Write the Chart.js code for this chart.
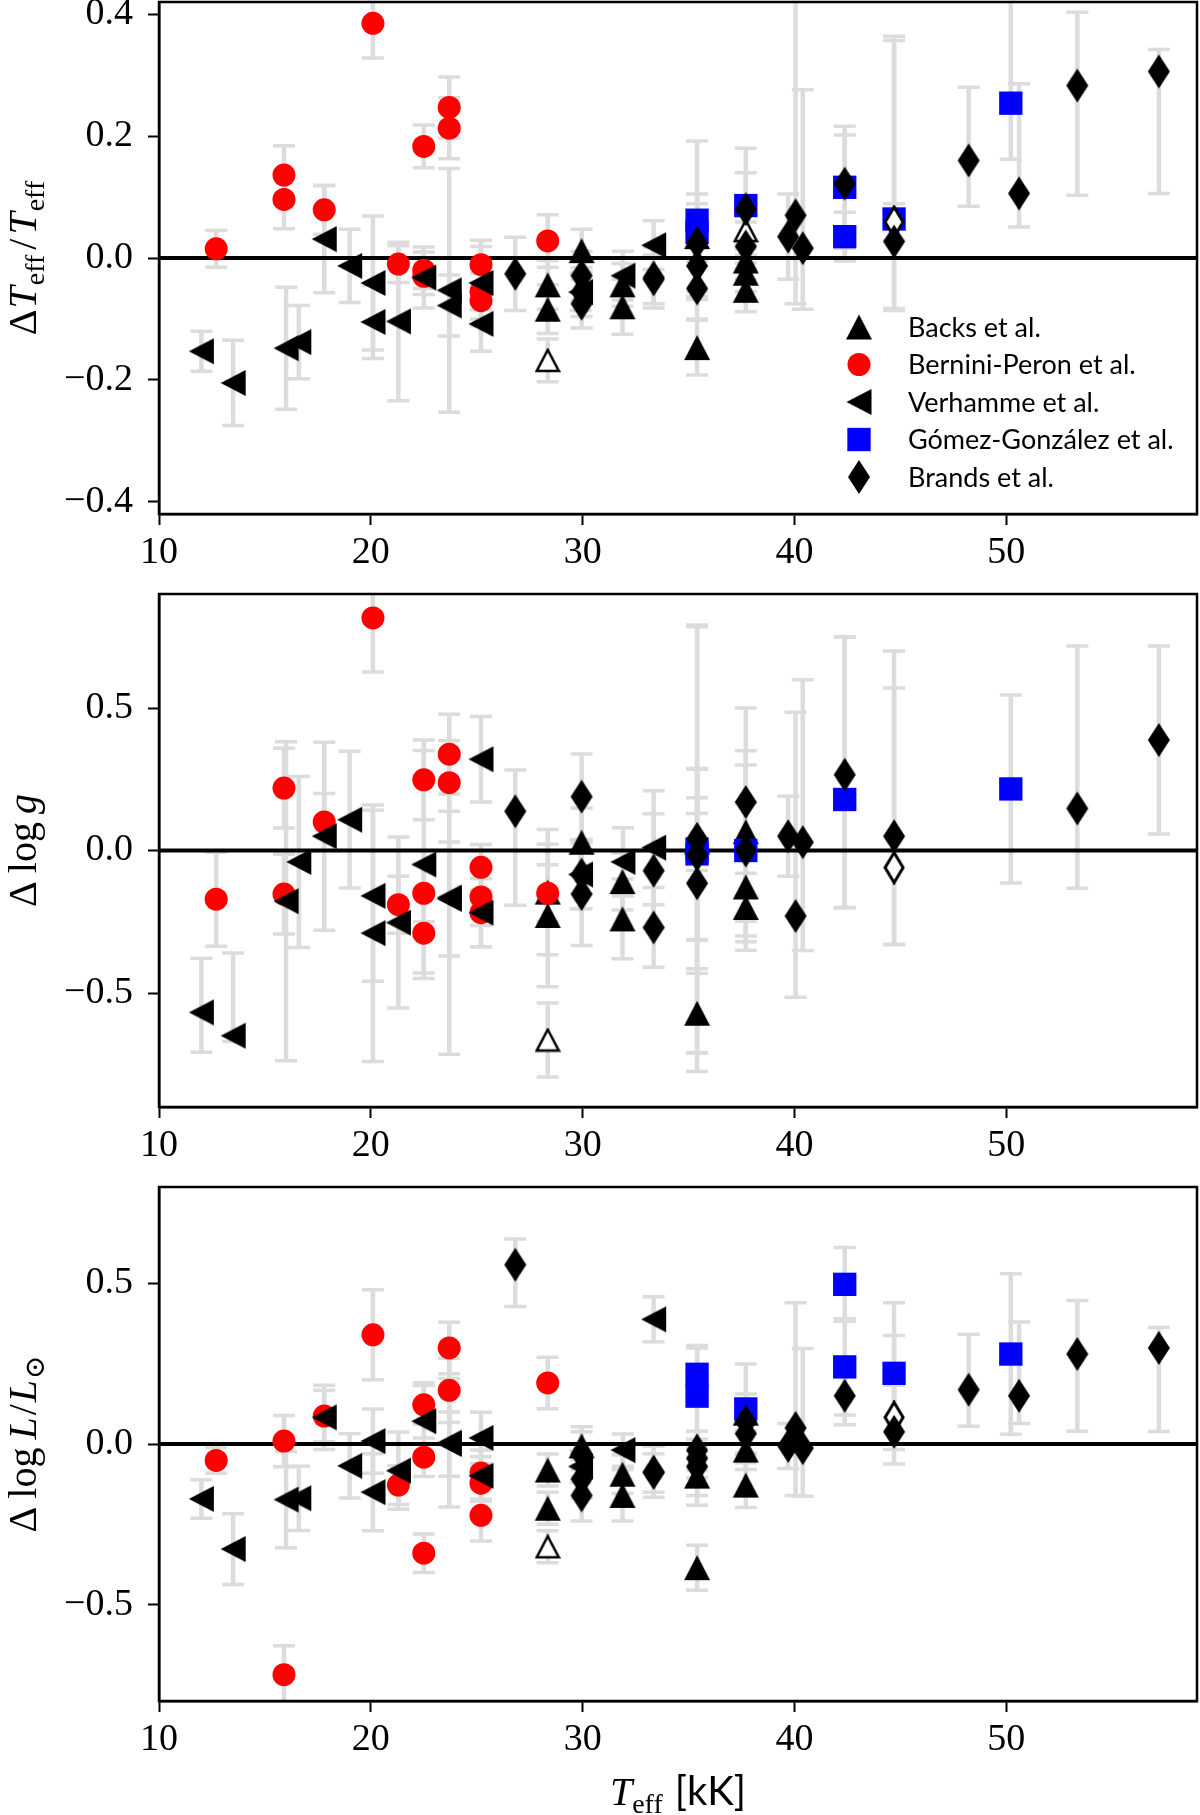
<!DOCTYPE html>
<html lang="en">
<head>
<meta charset="UTF-8">
<title>Delta Teff, log g, log L vs Teff</title>
<script src="https://cdn.jsdelivr.net/npm/chart.js"></script>
<style>
  body { margin: 0; background: #fff; }
  canvas { position: absolute; left: 0; }
</style>
</head>
<body>
<canvas id="c1" width="1200" height="580" style="top:0px"></canvas>
<canvas id="c2" width="1200" height="580" style="top:580px"></canvas>
<canvas id="c3" width="1200" height="655" style="top:1160px"></canvas>
<script>
// ticks
const xTicks = [10, 20, 30, 40, 50];
const yTicksTeff = [-0.4, -0.2, 0, 0.2, 0.4];
const yTicksLogg = [-0.5, 0, 0.5];
const yTicksLogL = [-0.5, 0, 0.5];

// Backs et al.
const backsT = [28.35, 28.35, 29.95, 31.88, 31.88, 35.4, 35.4, 37.7, 37.7, 37.7];
const backsDTeff = [-0.044, -0.084, 0.012, -0.044, -0.08, 0.035, -0.147, -0.005, -0.025, -0.053];
const backsDTeffErr = [0.04, 0.04, 0.035, 0.035, 0.045, 0.04, 0.045, 0.03, 0.03, 0.035];
const backsDlogg = [-0.146, -0.228, 0.029, -0.109, -0.24, 0.03, -0.571, 0.066, -0.128, -0.2];
const backsDloggErr = [0.22, 0.25, 0.12, 0.1, 0.14, 0.1, 0.14, 0.1, 0.12, 0.12];
const backsDlogL = [-0.081, -0.2, -0.006, -0.094, -0.16, -0.1, -0.385, 0.096, -0.019, -0.128];
const backsDlogLErr = [0.05, 0.05, 0.06, 0.06, 0.08, 0.06, 0.07, 0.06, 0.06, 0.07];
// Backs, open symbol
const backsOpenT = [28.35, 37.7];
const backsOpenDTeff = [-0.168, 0.045];
const backsOpenDTeffErr = [0.035, 0.03];
const backsOpenDlogg = [-0.665, null];
const backsOpenDloggErr = [0.13, null];
const backsOpenDlogL = [-0.32, null];
const backsOpenDlogLErr = [0.05, null];

// Bernini-Peron et al.
const berniniT = [12.7, 15.9, 15.9, 17.8, 20.1, 21.3, 22.5, 22.5, 22.5, 23.7, 23.7, 25.2, 25.2, 25.2, 28.35];
const berniniDTeff = [0.015, 0.136, 0.096, 0.079, 0.385, -0.010, 0.183, -0.02, -0.03, 0.247, 0.213, -0.011, -0.055, -0.07, 0.028];
const berniniDTeffErr = [0.03, 0.048, 0.048, 0.04, 0.057, 0.03, 0.035, 0.03, 0.03, 0.05, 0.05, 0.03, 0.03, 0.03, 0.043];
const berniniDlogg = [-0.171, 0.219, -0.153, 0.1, 0.816, -0.19, 0.248, -0.15, -0.29, 0.338, 0.238, -0.059, -0.163, -0.218, -0.15];
const berniniDloggErr = [0.165, 0.14, 0.14, 0.1, 0.19, 0.1, 0.14, 0.1, 0.14, 0.14, 0.1, 0.08, 0.1, 0.12, 0.1];
const berniniDlogL = [-0.051, 0.009, -0.718, 0.087, 0.34, -0.128, 0.122, -0.041, -0.34, 0.299, 0.167, -0.09, -0.122, -0.222, 0.19];
const berniniDlogLErr = [0.04, 0.08, 0.09, 0.08, 0.14, 0.06, 0.06, 0.06, 0.06, 0.08, 0.1, 0.05, 0.05, 0.08, 0.08];

// Verhamme et al.
const verhT = [12.0, 13.5, 16.0, 16.6, 17.8, 19.0, 20.1, 20.1, 21.3, 22.5, 23.7, 23.7, 25.2, 25.2, 29.9, 31.9, 33.35];
const verhDTeff = [-0.153, -0.205, -0.148, -0.138, 0.031, -0.013, -0.041, -0.105, -0.104, -0.032, -0.053, -0.078, -0.041, -0.108, -0.056, -0.029, 0.021];
const verhDTeffErr = [0.033, 0.07, 0.1, 0.06, 0.088, 0.06, 0.11, 0.06, 0.13, 0.05, 0.2, 0.05, 0.07, 0.045, 0.03, 0.04, 0.04];
const verhDlogg = [-0.568, -0.65, -0.178, -0.04, 0.05, 0.108, -0.159, -0.29, -0.253, -0.049, -0.165, -0.17, 0.32, -0.218, -0.084, -0.04, 0.01];
const verhDloggErr = [[0.14, 0.19], [0.02, 0.29], 0.56, 0.3, 0.33, 0.24, 0.3, 0.45, 0.3, 0.4, 0.55, 0.2, 0.15, 0.12, 0.12, 0.12, 0.2];
const verhDlogL = [-0.171, -0.327, -0.173, -0.169, 0.083, -0.068, 0.009, -0.15, -0.083, 0.071, 0.004, 0.0, 0.019, -0.099, -0.07, -0.019, 0.388];
const verhDlogLErr = [0.06, 0.11, 0.15, 0.1, 0.1, 0.1, 0.1, 0.12, 0.12, 0.12, 0.2, 0.1, 0.08, 0.08, 0.05, 0.05, 0.07];

// Gómez-González et al.
const ggT = [35.4, 35.4, 37.7, 42.37, 42.37, 44.7, 50.21];
const ggDTeff = [0.062, 0.042, 0.086, 0.116, 0.035, 0.064, 0.254];
const ggDTeffErr = [0.13, 0.047, 0.094, 0.1, 0.04, [0.15, 0.3], [0.092, 0.2]];
const ggDlogg = [0.005, -0.012, 0.0, 0.179, null, null, 0.216];
const ggDloggErr = [0.78, 0.3, 0.35, [0.38, 0.57], null, null, 0.33];
const ggDlogL = [0.217, 0.149, 0.109, 0.497, 0.24, 0.22, 0.28];
const ggDlogLErr = [0.09, [0.34, 0.15], 0.14, 0.115, 0.15, 0.22, 0.25];

// Brands et al.
const brandsT = [26.82, 29.95, 29.95, 29.95, 33.35, 33.35, 35.4, 35.4, 35.4, 37.7, 37.7, 39.7, 40.05, 40.39, 42.37, 44.7, 48.22, 50.6, 53.35, 57.2];
const brandsDTeff = [-0.026, -0.029, -0.056, -0.075, -0.032, -0.035, 0.025, -0.013, -0.05, 0.08, 0.019, 0.035, 0.07, 0.016, 0.122, 0.027, 0.16, 0.106, 0.283, 0.306];
const brandsDTeffErr = [0.06, 0.04, 0.04, 0.04, 0.05, 0.04, 0.08, 0.05, 0.05, 0.06, 0.04, 0.07, [0.145, 0.4], [0.1, 0.26], 0.08, [0.11, 0.33], [0.075, 0.12], [0.055, 0.18], [0.18, 0.12], [0.2, 0.036]];
const brandsDlogg = [0.1375, 0.189, -0.084, -0.153, -0.071, -0.27, 0.041, -0.015, -0.115, 0.17, 0.0, 0.05, -0.23, 0.029, 0.266, 0.05, null, null, 0.1475, 0.3875];
const brandsDloggErr = [[0.33, 0.145], 0.15, 0.12, 0.18, 0.2, 0.14, 0.75, 0.3, 0.3, 0.33, 0.3, 0.14, [0.285, 0.715], [0.38, 0.57], [0.466, 0.484], [0.38, 0.65], null, null, [0.28, 0.57], [0.33, 0.33]];
const brandsDlogL = [0.558, -0.032, -0.109, -0.16, -0.086, -0.09, -0.045, -0.07, -0.02, 0.07, 0.032, -0.006, 0.05, -0.013, 0.15, 0.038, 0.169, 0.15, 0.28, 0.299];
const brandsDlogLErr = [[0.13, 0.08], 0.07, 0.06, 0.08, 0.08, 0.06, 0.06, 0.06, 0.06, 0.07, 0.06, 0.07, [0.21, 0.39], [0.15, 0.31], 0.09, [0.1, 0.3], [0.114, 0.173], [0.086, 0.23], [0.24, 0.167], [0.26, 0.064]];
// Brands, open symbol
const brandsOpenT = [44.7];
const brandsOpenDTeff = [0.059];
const brandsOpenDTeffErr = [0.03];
const brandsOpenDlogg = [-0.06];
const brandsOpenDloggErr = [[0.27, 0.63]];
const brandsOpenDlogL = [0.083];
const brandsOpenDlogLErr = [0.1];

const legendLabels = ['Backs et al.', 'Bernini-Peron et al.', 'Verhamme et al.', 'Gómez-González et al.', 'Brands et al.'];

// ---- markers (matplotlib-like shapes) ----
function marker(w, h, pts, fill, stroke, lw) {
  const pad = 2;
  const c = document.createElement('canvas');
  c.width = w + 2 * pad; c.height = h + 2 * pad;
  const g = c.getContext('2d');
  g.beginPath();
  pts.forEach((p, i) => {
    const x = pad + p[0] * w, y = pad + p[1] * h;
    if (i === 0) g.moveTo(x, y); else g.lineTo(x, y);
  });
  g.closePath();
  g.fillStyle = fill;
  g.fill();
  if (lw) { g.lineWidth = lw; g.strokeStyle = stroke; g.stroke(); }
  return c;
}
const triUp = [[0.5, 0], [1, 1], [0, 1]];
const triLeft = [[0, 0.5], [1, 0], [1, 1]];
const diamond = [[0.5, 0], [1, 0.5], [0.5, 1], [0, 0.5]];
const mkBacks = marker(26, 25, triUp, '#000', '#000', 0);
const mkBacksOpen = marker(22, 21, triUp, '#fff', '#000', 2.5);
const mkVerh = marker(25, 26, triLeft, '#000', '#000', 0);
const mkBrands = marker(22, 34, diamond, '#000', '#000', 0);
const mkBrandsOpen = marker(18, 30, diamond, '#fff', '#000', 3);

function pts(T, v, e) {
  const out = [];
  T.forEach((t, i) => { if (v[i] !== null) out.push({ x: t, y: v[i], e: e[i] }); });
  return out;
}

function datasets(k) {
  const pick = (a, b, c) => [a, b, c][k];
  return [
    { label: 'Backs', order: 6, pointStyle: mkBacks, pointRadius: 12, backgroundColor: '#000',
      data: pts(backsT, pick(backsDTeff, backsDlogg, backsDlogL), pick(backsDTeffErr, backsDloggErr, backsDlogLErr)) },
    { label: 'Bernini', order: 5, pointStyle: 'circle', pointRadius: 11.5, backgroundColor: '#ff0000', borderWidth: 0,
      data: pts(berniniT, pick(berniniDTeff, berniniDlogg, berniniDlogL), pick(berniniDTeffErr, berniniDloggErr, berniniDlogLErr)) },
    { label: 'Verhamme', order: 4, pointStyle: mkVerh, pointRadius: 12, backgroundColor: '#000',
      data: pts(verhT, pick(verhDTeff, verhDlogg, verhDlogL), pick(verhDTeffErr, verhDloggErr, verhDlogLErr)) },
    { label: 'GG', order: 3, pointStyle: 'rect', pointRadius: 16.5, backgroundColor: '#0000ff', borderWidth: 0,
      data: pts(ggT, pick(ggDTeff, ggDlogg, ggDlogL), pick(ggDTeffErr, ggDloggErr, ggDlogLErr)) },
    { label: 'BacksOpen', order: 2.5, pointStyle: mkBacksOpen, pointRadius: 12, backgroundColor: '#fff',
      data: pts(backsOpenT, pick(backsOpenDTeff, backsOpenDlogg, backsOpenDlogL), pick(backsOpenDTeffErr, backsOpenDloggErr, backsOpenDlogLErr)) },
    { label: 'BrandsOpen', order: 2, pointStyle: mkBrandsOpen, pointRadius: 12, backgroundColor: '#fff',
      data: pts(brandsOpenT, pick(brandsOpenDTeff, brandsOpenDlogg, brandsOpenDlogL), pick(brandsOpenDTeffErr, brandsOpenDloggErr, brandsOpenDlogLErr)) },
    { label: 'Brands', order: 1, pointStyle: mkBrands, pointRadius: 12, backgroundColor: '#000',
      data: pts(brandsT, pick(brandsDTeff, brandsDlogg, brandsDlogL), pick(brandsDTeffErr, brandsDloggErr, brandsDlogLErr)) }
  ];
}

const SERIF = '"Liberation Serif", "DejaVu Serif", serif';
const SANS = 'Lato, "Open Sans", sans-serif';

function partFont(p, size) {
  const s = p.sub ? Math.round(size * 0.7) : size;
  return (p.it ? 'italic ' : '') + s + 'px ' + (p.sans ? SANS : SERIF);
}
function drawParts(ctx, parts, size) {
  let w = 0;
  parts.forEach(p => { ctx.font = partFont(p, size); p.w = ctx.measureText(p.t).width; w += p.w + (p.gap || 0); });
  let x = -w / 2;
  ctx.textAlign = 'left';
  ctx.textBaseline = 'alphabetic';
  parts.forEach(p => {
    ctx.font = partFont(p, size);
    ctx.fillText(p.t, x, p.sub ? size * 0.2 : 0);
    x += p.w + (p.gap || 0);
  });
}

const titleTeff = [{ t: 'Δ', gap: 1 }, { t: 'T', it: true, gap: 1 }, { t: 'eff', sub: true, gap: 5 }, { t: '/', gap: 4 }, { t: 'T', it: true, gap: 1 }, { t: 'eff', sub: true }];
const titleLogg = [{ t: 'Δ', gap: 8 }, { t: 'log', gap: 8 }, { t: 'g', it: true }];
const titleLogL = [{ t: 'Δ', gap: 8 }, { t: 'log', gap: 8 }, { t: 'L', it: true, gap: 2 }, { t: '/', gap: 2 }, { t: 'L', it: true, gap: 1 }, { t: '⊙', sub: true }];
const titleX = [{ t: 'T', it: true }, { t: 'eff', sub: true, gap: 12 }, { t: '[kK]', sans: true }];

const panels = [
  { id: 'c1', top: 0, height: 580, areaTop: 2, areaBottom: 514, min: -0.42, max: 0.42, yTicks: yTicksTeff, title: titleTeff, legend: true },
  { id: 'c2', top: 580, height: 580, areaTop: 594, areaBottom: 1107, min: -0.9, max: 0.9, yTicks: yTicksLogg, title: titleLogg },
  { id: 'c3', top: 1160, height: 655, areaTop: 1187, areaBottom: 1701, min: -0.8, max: 0.8, yTicks: yTicksLogL, title: titleLogL, xTitle: titleX }
];

const fmt = v => v === 0 ? '0.0' : (v < 0 ? '\u2212' : '') + Math.abs(v).toFixed(1);

panels.forEach((P, k) => {
  const errorBars = {
    id: 'errorBars',
    beforeDatasetsDraw(chart) {
      const { ctx, chartArea: a, scales } = chart;
      const ys = scales.y;
      ctx.save();
      ctx.beginPath();
      ctx.rect(a.left, a.top, a.right - a.left, a.bottom - a.top);
      ctx.clip();
      ctx.strokeStyle = '#dcdcdc';
      chart.data.datasets.forEach((ds, i) => {
        const meta = chart.getDatasetMeta(i);
        ds.data.forEach((d, j) => {
          if (d.e == null) return;
          const em = Array.isArray(d.e) ? d.e[0] : d.e;
          const ep = Array.isArray(d.e) ? d.e[1] : d.e;
          const x = meta.data[j].x;
          const y1 = ys.getPixelForValue(d.y - em);
          const y2 = ys.getPixelForValue(d.y + ep);
          ctx.lineWidth = 4.5;
          ctx.beginPath();
          ctx.moveTo(x, y1); ctx.lineTo(x, y2);
          ctx.stroke();
          ctx.lineWidth = 3.5;
          ctx.beginPath();
          ctx.moveTo(x - 11, y1); ctx.lineTo(x + 11, y1);
          ctx.moveTo(x - 11, y2); ctx.lineTo(x + 11, y2);
          ctx.stroke();
        });
      });
      // zero line
      const y0 = ys.getPixelForValue(0);
      ctx.strokeStyle = '#000';
      ctx.lineWidth = 4;
      ctx.beginPath();
      ctx.moveTo(a.left, y0); ctx.lineTo(a.right, y0);
      ctx.stroke();
      ctx.restore();
    },
    afterDraw(chart) {
      const { ctx, chartArea: a } = chart;
      ctx.save();
      ctx.strokeStyle = '#000';
      ctx.lineWidth = 2.5;
      ctx.strokeRect(a.left, a.top, a.right - a.left, a.bottom - a.top);
      ctx.fillStyle = '#000';
      // y title
      ctx.save();
      ctx.translate(36, (a.top + a.bottom) / 2);
      ctx.rotate(-Math.PI / 2);
      drawParts(ctx, P.title.map(p => Object.assign({}, p)), 40);
      ctx.restore();
      if (P.xTitle) {
        ctx.save();
        ctx.translate((a.left + a.right) / 2, a.bottom + 104);
        drawParts(ctx, P.xTitle.map(p => Object.assign({}, p)), 40);
        ctx.restore();
      }
      if (P.legend) {
        const styles = [
          { s: mkBacks, c: '#000' }, { s: 'circle', c: '#ff0000', r: 11.5 }, { s: mkVerh, c: '#000' },
          { s: 'rect', c: '#0000ff', r: 16.5 }, { s: mkBrands, c: '#000' }
        ];
        const mx = a.right - 338, tx = a.right - 289;
        legendLabels.forEach((lab, i) => {
          const y = a.top + 325 + i * 37.5;
          ctx.fillStyle = styles[i].c;
          Chart.helpers.drawPoint(ctx, { pointStyle: styles[i].s, radius: styles[i].r || 12, rotation: 0, borderWidth: 0 }, mx, y);
          ctx.fillStyle = '#000';
          ctx.font = '27px ' + SANS;
          ctx.textAlign = 'left';
          ctx.textBaseline = 'middle';
          ctx.fillText(lab, tx, y + 1);
        });
      }
      ctx.restore();
    }
  };

  new Chart(document.getElementById(P.id), {
    type: 'scatter',
    data: { datasets: datasets(k) },
    options: {
      responsive: false,
      animation: false,
      events: [],
      layout: { autoPadding: false, padding: { top: P.areaTop - P.top, right: 3, left: 0, bottom: 0 } },
      elements: { point: { borderWidth: 0, hoverRadius: 0 } },
      plugins: { legend: { display: false }, tooltip: { enabled: false } },
      scales: {
        x: {
          type: 'linear', min: 10, max: 59,
          afterBuildTicks: s => { s.ticks = xTicks.map(v => ({ value: v })); },
          afterFit: s => { s.height = P.height - (P.areaBottom - P.top); s.paddingLeft = 0; s.paddingRight = 0; },
          grid: { drawOnChartArea: false, drawTicks: true, tickLength: 11, tickWidth: 2, tickColor: '#000' },
          border: { display: true, color: '#000', width: 2.5 },
          ticks: { color: '#000', padding: 5, maxRotation: 0, font: { family: SERIF, size: 38 }, callback: v => String(v) }
        },
        y: {
          type: 'linear', min: P.min, max: P.max,
          afterBuildTicks: s => { s.ticks = P.yTicks.map(v => ({ value: v })); },
          afterFit: s => { s.width = 159; s.paddingTop = 0; s.paddingBottom = 0; },
          grid: { drawOnChartArea: false, drawTicks: true, tickLength: 11, tickWidth: 2, tickColor: '#000' },
          border: { display: true, color: '#000', width: 2.5 },
          ticks: { color: '#000', padding: 15, font: { family: SERIF, size: 38 }, callback: fmt }
        }
      }
    },
    plugins: [errorBars]
  });
});
</script>
</body>
</html>
